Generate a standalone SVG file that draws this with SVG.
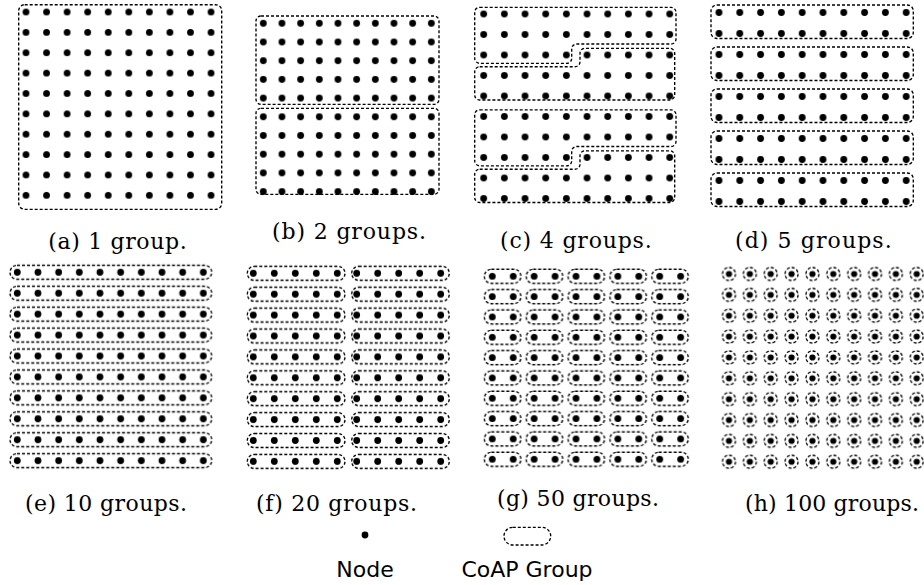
<svg xmlns="http://www.w3.org/2000/svg" xmlns:xlink="http://www.w3.org/1999/xlink" width="924" height="585" viewBox="0 0 924 585">
<style>
.g{fill:none;stroke:#000;stroke-width:1.35;stroke-dasharray:3 2}
.cap{font-family:"DejaVu Serif","Liberation Serif",serif;font-size:22px;fill:#000}
.leg{font-family:"DejaVu Sans","Liberation Sans",sans-serif;font-size:22px;fill:#000;text-anchor:middle}
</style>
<defs>
<circle id="dot" r="3.4" fill="#000"/>
<pattern id="pa" patternUnits="userSpaceOnUse" x="15.72" y="1.815" width="20.56" height="20.37"><use href="#dot" x="10.28" y="10.185"/></pattern>
<pattern id="pb" patternUnits="userSpaceOnUse" x="253.965" y="13.95" width="18.67" height="18.7"><use href="#dot" x="9.335" y="9.35"/></pattern>
<pattern id="pc" patternUnits="userSpaceOnUse" x="473.365" y="3.75" width="20.67" height="20.5"><use href="#dot" x="10.335" y="10.25"/></pattern>
<pattern id="pd" patternUnits="userSpaceOnUse" x="708.6" y="2" width="20.8" height="21"><use href="#dot" x="10.4" y="10.5"/></pattern>
<pattern id="pe" patternUnits="userSpaceOnUse" x="6.965" y="261.835" width="206.7" height="20.93">
<rect class="g" x="3.035" y="3.465" width="201.7" height="14" rx="7"/>
<use href="#dot" x="10.335" y="10.465"/><use href="#dot" x="31.005" y="10.465"/><use href="#dot" x="51.675" y="10.465"/><use href="#dot" x="72.345" y="10.465"/><use href="#dot" x="93.015" y="10.465"/><use href="#dot" x="113.685" y="10.465"/><use href="#dot" x="134.355" y="10.465"/><use href="#dot" x="155.025" y="10.465"/><use href="#dot" x="175.695" y="10.465"/><use href="#dot" x="196.365" y="10.465"/>
</pattern>
<pattern id="pf" patternUnits="userSpaceOnUse" x="240" y="262.85" width="215" height="20.9">
<rect class="g" x="7.3" y="3.45" width="97.7" height="14" rx="7"/>
<rect class="g" x="111.7" y="3.45" width="97.6" height="14" rx="7"/>
<use href="#dot" x="13.3" y="10.45"/><use href="#dot" x="34.3" y="10.45"/><use href="#dot" x="55.3" y="10.45"/><use href="#dot" x="76.3" y="10.45"/><use href="#dot" x="97.3" y="10.45"/>
<use href="#dot" x="116.7" y="10.45"/><use href="#dot" x="137.7" y="10.45"/><use href="#dot" x="158.7" y="10.45"/><use href="#dot" x="179.7" y="10.45"/><use href="#dot" x="200.7" y="10.45"/>
</pattern>
<pattern id="pg" patternUnits="userSpaceOnUse" x="481.835" y="266.135" width="41.86" height="20.33">
<rect class="g" x="2.465" y="3.165" width="36.6" height="14" rx="7"/>
<use href="#dot" x="10.465" y="10.165"/><use href="#dot" x="31.395" y="10.165"/>
</pattern>
<pattern id="ph" patternUnits="userSpaceOnUse" x="718.57" y="263.57" width="20.86" height="20.86">
<circle class="g" cx="10.43" cy="10.43" r="6.5"/>
<circle cx="10.43" cy="10.43" r="3.1" fill="#000"/>
</pattern>
</defs>
<rect width="924" height="585" fill="#fff"/>

<g id="panel-a">
<rect x="15.72" y="1.815" width="205.6" height="203.7" fill="url(#pa)"/>
<rect class="g" x="18.7" y="4.7" width="203" height="204.6" rx="6"/>
<text class="cap" x="48.3" y="249" textLength="138.4">(a) 1 group.</text>
</g>

<g id="panel-b">
<rect x="253.965" y="13.95" width="186.7" height="187" fill="url(#pb)"/>
<rect class="g" x="256" y="16" width="183" height="88.3" rx="5"/>
<rect class="g" x="256" y="108.3" width="183" height="86" rx="5"/>
<text class="cap" x="272" y="238.5" textLength="154">(b) 2 groups.</text>
</g>

<g id="panel-c">
<rect x="473.365" y="3.75" width="206.7" height="205" fill="url(#pc)"/>
<path class="g" d="M479.7,7.3 H671 A5,5 0 0 1 676,12.3 V39 A5,5 0 0 1 671,44 H576.7 A5,5 0 0 0 571.7,49 V58.3 A5,5 0 0 1 566.7,63.3 H479.7 A5,5 0 0 1 474.7,58.3 V12.3 A5,5 0 0 1 479.7,7.3 Z"/>
<path class="g" d="M479.7,66.7 H575 A5,5 0 0 0 580,61.7 V53.3 A5,5 0 0 1 585,48.3 H669.7 A5,5 0 0 1 674.7,53.3 V95 A5,5 0 0 1 669.7,100 H479.7 A5,5 0 0 1 474.7,95 V71.7 A5,5 0 0 1 479.7,66.7 Z"/>
<path class="g" transform="translate(0,102.5)" d="M479.7,7.3 H671 A5,5 0 0 1 676,12.3 V39 A5,5 0 0 1 671,44 H576.7 A5,5 0 0 0 571.7,49 V58.3 A5,5 0 0 1 566.7,63.3 H479.7 A5,5 0 0 1 474.7,58.3 V12.3 A5,5 0 0 1 479.7,7.3 Z"/>
<path class="g" transform="translate(0,102.5)" d="M479.7,66.7 H575 A5,5 0 0 0 580,61.7 V53.3 A5,5 0 0 1 585,48.3 H669.7 A5,5 0 0 1 674.7,53.3 V95 A5,5 0 0 1 669.7,100 H479.7 A5,5 0 0 1 474.7,95 V71.7 A5,5 0 0 1 479.7,66.7 Z"/>
<text class="cap" x="500" y="247.5" textLength="151.7">(c) 4 groups.</text>
</g>

<g id="panel-d">
<rect x="708.6" y="2" width="208" height="210" fill="url(#pd)"/>
<rect class="g" x="711" y="5" width="202.3" height="33.5" rx="6"/>
<rect class="g" x="711" y="47" width="202.3" height="33.5" rx="6"/>
<rect class="g" x="711" y="89" width="202.3" height="33.5" rx="6"/>
<rect class="g" x="711" y="131" width="202.3" height="33.5" rx="6"/>
<rect class="g" x="711" y="173" width="202.3" height="33.5" rx="6"/>
<text class="cap" x="735" y="247.5" textLength="156.7">(d) 5 groups.</text>
</g>

<g id="panel-e">
<rect x="6.965" y="261.835" width="206.7" height="209.3" fill="url(#pe)"/>
<text class="cap" x="25" y="511" textLength="162">(e) 10 groups.</text>
</g>

<g id="panel-f">
<rect x="240" y="262.85" width="215" height="209" fill="url(#pf)"/>
<text class="cap" x="256" y="511" textLength="161">(f) 20 groups.</text>
</g>

<g id="panel-g">
<rect x="481.835" y="266.135" width="209.3" height="203.3" fill="url(#pg)"/>
<text class="cap" x="497" y="506" textLength="162">(g) 50 groups.</text>
</g>

<g id="panel-h">
<rect x="718.57" y="263.57" width="208.6" height="208.6" fill="url(#ph)"/>
<text class="cap" x="745" y="511" textLength="174">(h) 100 groups.</text>
</g>

<g id="legend-node">
<use href="#dot" x="365" y="535"/>
<text class="leg" x="365" y="577">Node</text>
</g>
<g id="legend-group">
<rect class="g" x="504" y="527.3" width="46.7" height="17.7" rx="8.8"/>
<text class="leg" x="527" y="577">CoAP Group</text>
</g>
</svg>
